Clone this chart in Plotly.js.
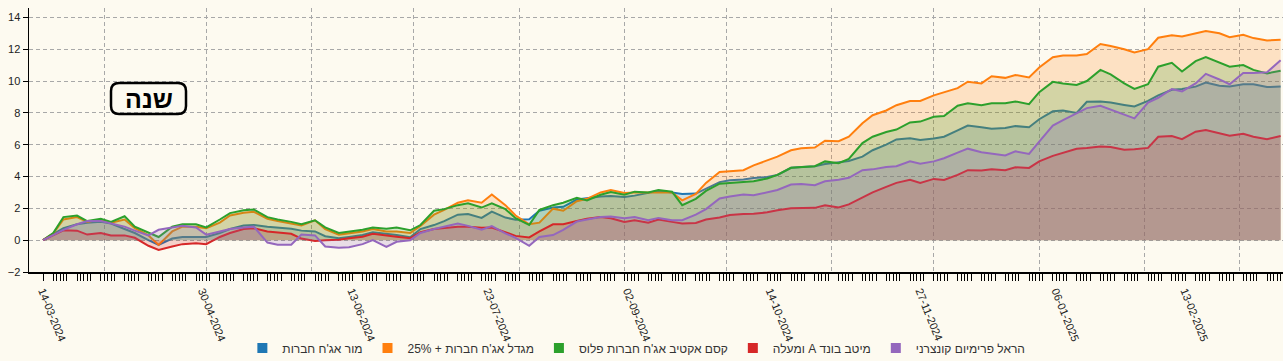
<!DOCTYPE html>
<html>
<head>
<meta charset="utf-8">
<script src="https://cdn.plot.ly/plotly-3.0.1.min.js"></script>
<style>
  html, body { margin: 0; padding: 0; background: #fdfaf0; }
  #chart { width: 1283px; height: 361px; }
</style>
</head>
<body>
<div id="chart"></div>
<script>
// ---- data ----
const DATES = ['2024-03-14','2024-03-17','2024-03-20','2024-03-24','2024-03-27','2024-03-31',
'2024-04-03','2024-04-07','2024-04-10','2024-04-14','2024-04-17','2024-04-21','2024-04-24','2024-04-28',
'2024-05-01','2024-05-05','2024-05-08','2024-05-12','2024-05-15','2024-05-19','2024-05-22','2024-05-26','2024-05-29',
'2024-06-02','2024-06-05','2024-06-09','2024-06-12','2024-06-16','2024-06-19','2024-06-23','2024-06-26','2024-06-30',
'2024-07-03','2024-07-07','2024-07-10','2024-07-14','2024-07-17','2024-07-21','2024-07-24','2024-07-28','2024-07-31',
'2024-08-04','2024-08-07','2024-08-11','2024-08-14','2024-08-18','2024-08-21','2024-08-25','2024-08-28',
'2024-09-01','2024-09-04','2024-09-08','2024-09-11','2024-09-15','2024-09-18','2024-09-22','2024-09-25','2024-09-29',
'2024-10-02','2024-10-06','2024-10-09','2024-10-13','2024-10-16','2024-10-20','2024-10-23','2024-10-27','2024-10-30',
'2024-11-03','2024-11-06','2024-11-10','2024-11-13','2024-11-17','2024-11-20','2024-11-24','2024-11-27',
'2024-12-01','2024-12-04','2024-12-08','2024-12-11','2024-12-15','2024-12-18','2024-12-22','2024-12-25','2024-12-29',
'2025-01-01','2025-01-05','2025-01-08','2025-01-12','2025-01-15','2025-01-19','2025-01-22','2025-01-26','2025-01-29',
'2025-02-02','2025-02-05','2025-02-09','2025-02-12','2025-02-16','2025-02-19','2025-02-23','2025-02-26',
'2025-03-02','2025-03-05','2025-03-09','2025-03-13'];

const MOR = [0,.35,.75,1.0,1.1,1.15,1.05,.7,.45,0,-.3,.1,.2,.2,.2,.45,.7,.92,.95,.85,.8,.72,.6,.55,.25,.12,.2,.32,.5,.42,.32,.18,
.7,.95,1.2,1.6,1.65,1.4,1.8,1.42,1.28,1.32,1.85,2.05,2.1,2.55,2.65,2.75,2.77,2.72,2.8,2.95,3.1,3.0,2.9,2.93,3.25,3.65,
3.76,3.81,3.9,3.97,4.1,4.55,4.6,4.65,4.78,4.9,4.98,5.25,5.65,6.0,6.33,6.4,6.3,6.39,6.5,6.9,7.2,7.1,7.0,7.05,7.17,7.1,
7.6,8.1,8.15,8.0,8.7,8.72,8.65,8.5,8.4,8.75,9.1,9.45,9.5,9.65,9.9,9.7,9.66,9.8,9.8,9.62,9.65];

const MIGDAL = [0,.42,1.3,1.45,1.15,1.3,1.1,1.3,.75,.3,-.3,.55,.85,.85,.75,1.1,1.55,1.72,1.78,1.35,1.2,1.05,.92,1.25,.7,.35,.45,.55,.7,.55,.55,.45,
.9,1.6,1.9,2.35,2.5,2.35,2.87,2.2,1.55,1.0,1.1,1.98,1.85,2.45,2.6,3.0,3.15,2.97,3.0,3.02,3.0,3.0,2.5,2.9,3.6,4.28,
4.34,4.4,4.7,5.0,5.25,5.65,5.78,5.82,6.25,6.22,6.5,7.35,7.85,8.15,8.48,8.75,8.75,9.1,9.3,9.55,9.96,9.85,10.3,10.2,10.38,10.23,
10.85,11.5,11.6,11.6,11.7,12.33,12.2,12.0,11.8,12.0,12.72,12.88,12.8,13.0,13.15,13.0,12.75,12.9,12.7,12.55,12.6];

const KESEM = [0,.45,1.45,1.55,1.2,1.35,1.15,1.5,.85,.5,.2,.85,1.0,1.0,.8,1.3,1.7,1.88,1.93,1.45,1.3,1.15,1.0,1.25,.8,.45,.55,.65,.8,.72,.8,.62,
.95,1.85,1.95,2.2,2.32,2.05,2.32,1.95,1.38,.96,1.9,2.2,2.35,2.66,2.5,2.85,3.02,2.85,3.05,3.0,3.15,3.05,2.2,2.6,3.1,3.55,
3.6,3.68,3.7,3.88,4.1,4.55,4.6,4.65,4.95,4.84,5.1,6.1,6.5,6.8,6.95,7.4,7.45,7.75,7.8,8.45,8.6,8.48,8.6,8.6,8.72,8.55,
9.3,9.95,9.85,9.75,10.0,10.7,10.42,9.85,9.5,9.8,10.9,11.15,10.6,11.25,11.5,11.15,10.9,11.0,10.7,10.48,10.65];

const MEITAV = [0,.3,.62,.6,.35,.45,.3,.3,.15,-.35,-.62,-.4,-.25,-.2,-.25,.2,.45,.7,.75,.55,.5,.4,.1,-.05,0,.02,.12,.22,.4,.32,.22,.12,
.5,.7,.75,.85,.85,.78,.8,.52,.27,.17,.55,1.0,1.0,1.2,1.35,1.45,1.38,1.15,1.25,1.1,1.3,1.15,1.05,1.08,1.3,1.42,
1.58,1.65,1.66,1.75,1.88,2.0,2.03,2.03,2.2,2.05,2.25,2.7,3.0,3.35,3.6,3.8,3.6,3.85,3.78,4.1,4.4,4.38,4.45,4.4,4.58,4.54,
4.95,5.3,5.5,5.75,5.8,5.89,5.85,5.68,5.72,5.8,6.5,6.55,6.35,6.82,6.92,6.7,6.56,6.68,6.5,6.35,6.55];

const HAREL = [0,.35,.65,1.0,1.2,1.2,1.05,.85,.6,.3,.65,.8,.9,.8,.35,.55,.7,.8,.85,-.15,-.28,-.28,.35,.3,-.4,-.48,-.45,-.25,0,-.42,-.1,0,
.45,.7,.85,1.05,.9,.66,.88,.43,.15,-.35,.2,.32,.65,1.17,1.3,1.45,1.48,1.38,1.45,1.25,1.4,1.25,1.25,1.6,1.95,2.62,
2.75,2.87,2.82,3.0,3.15,3.5,3.53,3.45,3.7,3.8,3.92,4.4,4.45,4.6,4.65,4.96,4.8,4.95,5.15,5.5,5.75,5.52,5.45,5.32,5.58,5.42,
6.2,7.2,7.55,7.95,8.3,8.45,8.2,7.9,7.65,8.65,8.95,9.5,9.35,9.85,10.45,10.1,9.8,10.5,10.5,10.55,11.3];

const SERIES_NAMES = ["מור אג'ח חברות", "מגדל אג'ח חברות + 25%", "קסם אקטיב אג'ח חברות פלוס", "מיטב בונד A ומעלה", "הראל פרימיום קונצרני"];
const SERIES_VALUES = [MOR, MIGDAL, KESEM, MEITAV, HAREL];
const COLORS = ['#1f77b4', '#ff7f0e', '#2ca02c', '#d62728', '#9467bd'];
const FILLS = ['rgba(31,119,180,0.2)', 'rgba(255,127,14,0.2)', 'rgba(44,160,44,0.2)', 'rgba(214,39,40,0.2)', 'rgba(148,103,189,0.2)'];

const TICK_DATES = ['2024-03-14','2024-04-30','2024-06-13','2024-07-23','2024-09-02','2024-10-14','2024-11-27','2025-01-06','2025-02-13'];
const TICK_TEXT = ['14-03-2024','30-04-2024','13-06-2024','23-07-2024','02-09-2024','14-10-2024','27-11-2024','06-01-2025','13-02-2025'];
const Y_TICKS = [-2, 0, 2, 4, 6, 8, 10, 12, 14];
const PERIOD_LABEL = 'שנה';

// ---- chart ----
const FONT = 'Liberation Sans, Arial, sans-serif';
const X_RANGE = ['2024-03-09 21:07', '2025-03-13 16:48'];
const rtl = s => '\u202B' + s + '\u202C';

// small axis ticks on the trading-day calendar (Sunday..Thursday) of the period
const TRADING_TICKS = [];
for (let t = Date.UTC(2024, 2, 14); t <= Date.UTC(2025, 2, 13); t += 86400000) {
  const d = new Date(t);
  if (d.getUTCDay() <= 4) TRADING_TICKS.push(d.toISOString().slice(0, 10));
}

const traces = [];
SERIES_VALUES.forEach((vals, i) => {
  traces.push({
    x: DATES, y: vals, type: 'scatter', mode: 'lines',
    line: {color: COLORS[i], width: 2},
    fill: 'tozeroy', fillcolor: FILLS[i],
    showlegend: false, hoverinfo: 'skip', name: SERIES_NAMES[i]
  });
});
// legend swatches
SERIES_NAMES.forEach((n, i) => {
  traces.push({
    x: [null], y: [null], type: 'scatter', mode: 'markers',
    marker: {symbol: 'square', size: 10, color: COLORS[i]},
    name: rtl(n), showlegend: true, hoverinfo: 'skip'
  });
});
// carrier for the monthly grid axis
traces.push({x: [DATES[0]], y: [null], xaxis: 'x2', yaxis: 'y', type: 'scatter', mode: 'lines', showlegend: false, hoverinfo: 'skip'});

const GRID = '#a8a8a8';
const DASH = '4px,3px';

const layout = {
  width: 1283, height: 361,
  margin: {l: 29, r: 0, t: 8, b: 89, pad: 0},
  paper_bgcolor: '#fdfaf0', plot_bgcolor: '#fdfaf0',
  font: {family: FONT, size: 11, color: '#222'},
  showlegend: true,
  legend: {
    orientation: 'h', xref: 'container', yref: 'container',
    x: 0.496, xanchor: 'center', y: 0.036, yanchor: 'middle',
    font: {family: FONT, size: 12, color: '#333'},
    itemwidth: 30, bgcolor: 'rgba(0,0,0,0)', traceorder: 'normal'
  },
  xaxis: {
    type: 'date', range: X_RANGE,
    tickmode: 'array', tickvals: TICK_DATES, ticktext: TICK_TEXT, tickangle: 68,
    ticks: 'outside', ticklen: 7, tickcolor: '#000', tickwidth: 1,
    tickfont: {family: FONT, size: 11, color: '#222'},
    showgrid: false, zeroline: false,
    showline: true, linecolor: '#000', linewidth: 1.5,
    minor: {tickmode: 'array', tickvals: TRADING_TICKS, ticks: 'outside', ticklen: 7, tickcolor: '#000', tickwidth: 1, showgrid: false}
  },
  xaxis2: {
    type: 'date', range: X_RANGE, overlaying: 'x', anchor: 'y', side: 'bottom',
    tickmode: 'linear', tick0: '2024-04-01', dtick: 'M1',
    showgrid: true, gridcolor: GRID, griddash: DASH, gridwidth: 1,
    showticklabels: false, ticks: '', showline: false, zeroline: false
  },
  yaxis: {
    range: [-2, 14.59], tickmode: 'array', tickvals: Y_TICKS,
    ticks: 'outside', ticklen: 5, tickcolor: '#000', tickwidth: 1,
    tickfont: {family: FONT, size: 11, color: '#222'},
    showgrid: true, gridcolor: GRID, griddash: DASH, gridwidth: 1,
    zeroline: false, showline: true, linecolor: '#000', linewidth: 1.5
  },
  shapes: [{
    type: 'path', xref: 'paper', yref: 'paper', layer: 'above',
    path: 'M 0.0718,0.7157 L 0.1188,0.7157 Q 0.1252,0.7157 0.1252,0.6854 L 0.1252,0.6285 Q 0.1252,0.5982 0.1188,0.5982 L 0.0718,0.5982 Q 0.0654,0.5982 0.0654,0.6285 L 0.0654,0.6854 Q 0.0654,0.7157 0.0718,0.7157 Z',
    line: {color: '#000', width: 2.5}, fillcolor: 'rgba(0,0,0,0)'
  }],
  annotations: [{
    xref: 'paper', yref: 'paper', x: 0.0953, y: 0.657, xanchor: 'center', yanchor: 'middle',
    text: '<b>' + PERIOD_LABEL + '</b>', showarrow: false,
    font: {family: FONT, size: 25, color: '#000'}
  }]
};

Plotly.newPlot('chart', traces, layout, {displayModeBar: false, staticPlot: true});
</script>
</body>
</html>
